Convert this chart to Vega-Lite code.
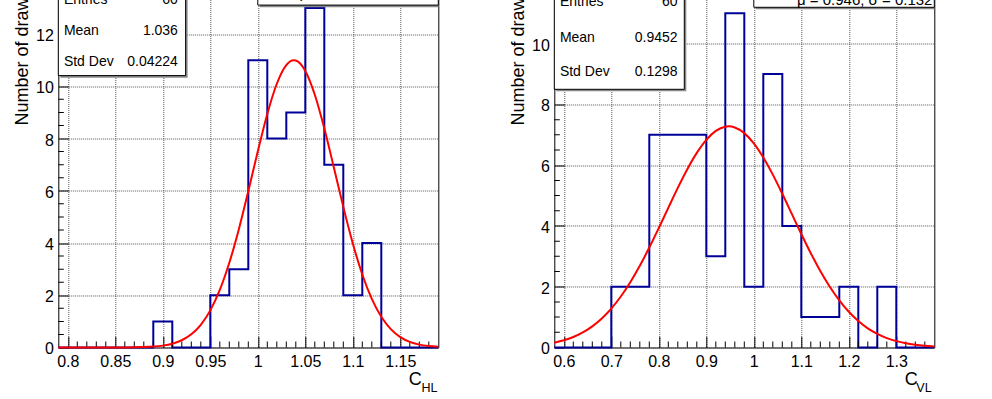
{
  "$schema": "https://vega.github.io/schema/vega-lite/v6.json",
  "background": "white",
  "padding": {"left": 12.3, "top": -15.5, "right": 0, "bottom": 0},
  "autosize": {"type": "pad"},
  "spacing": 116,
  "bounds": "flush",
  "config": {
    "font": "Liberation Sans",
    "view": {"stroke": "black", "strokeWidth": 1},
    "tick": {"opacity": 1},
    "axis": {
      "labelFont": "Liberation Sans", "labelFontSize": 16, "labelColor": "black",
      "titleFont": "Liberation Sans", "titleFontSize": 18, "titleFontWeight": "normal", "titleColor": "black",
      "domain": false, "ticks": true, "tickColor": "black", "tickWidth": 1,
      "grid": true, "gridColor": "#555555", "gridDash": [1, 1], "gridWidth": 1,
      "labelFlush": false, "labelOverlap": false
    }
  },
  "datasets": {
    "hl": [
      {"c": 0.79, "n": 0}, {"c": 0.81, "n": 0}, {"c": 0.83, "n": 0}, {"c": 0.85, "n": 0}, {"c": 0.87, "n": 0},
      {"c": 0.89, "n": 1}, {"c": 0.91, "n": 0}, {"c": 0.93, "n": 0}, {"c": 0.95, "n": 2}, {"c": 0.97, "n": 3},
      {"c": 0.99, "n": 11}, {"c": 1.01, "n": 8}, {"c": 1.03, "n": 9}, {"c": 1.05, "n": 13}, {"c": 1.07, "n": 7},
      {"c": 1.09, "n": 2}, {"c": 1.11, "n": 4}, {"c": 1.13, "n": 0}, {"c": 1.15, "n": 0}, {"c": 1.17, "n": 0},
      {"c": 1.19, "n": 0}
    ],
    "fl": [
      {"c": 0.79, "f": 0}, {"c": 0.8, "f": 0}, {"c": 0.81, "f": 0}, {"c": 0.82, "f": 0}, {"c": 0.83, "f": 0.0001},
      {"c": 0.84, "f": 0.0003}, {"c": 0.85, "f": 0.001}, {"c": 0.86, "f": 0.0025}, {"c": 0.87, "f": 0.0063}, {"c": 0.88, "f": 0.015},
      {"c": 0.89, "f": 0.034}, {"c": 0.9, "f": 0.072}, {"c": 0.91, "f": 0.145}, {"c": 0.92, "f": 0.278}, {"c": 0.93, "f": 0.504},
      {"c": 0.94, "f": 0.869}, {"c": 0.95, "f": 1.421}, {"c": 0.96, "f": 2.203}, {"c": 0.97, "f": 3.242}, {"c": 0.98, "f": 4.522},
      {"c": 0.99, "f": 5.984}, {"c": 1.0, "f": 7.511}, {"c": 1.01, "f": 8.942}, {"c": 1.02, "f": 10.098}, {"c": 1.03, "f": 10.815},
      {"c": 1.038, "f": 11.0}, {"c": 1.04, "f": 10.988}, {"c": 1.05, "f": 10.59}, {"c": 1.06, "f": 9.679}, {"c": 1.07, "f": 8.392},
      {"c": 1.08, "f": 6.902}, {"c": 1.09, "f": 5.384}, {"c": 1.1, "f": 3.984}, {"c": 1.11, "f": 2.796}, {"c": 1.12, "f": 1.861},
      {"c": 1.13, "f": 1.175}, {"c": 1.14, "f": 0.704}, {"c": 1.15, "f": 0.4}, {"c": 1.16, "f": 0.215}, {"c": 1.17, "f": 0.11},
      {"c": 1.18, "f": 0.053}, {"c": 1.19, "f": 0.025}
    ],
    "hr": [
      {"c": 0.58, "n": 0}, {"c": 0.62, "n": 0}, {"c": 0.66, "n": 0}, {"c": 0.7, "n": 2}, {"c": 0.74, "n": 2},
      {"c": 0.78, "n": 7}, {"c": 0.82, "n": 7}, {"c": 0.86, "n": 7}, {"c": 0.9, "n": 3}, {"c": 0.94, "n": 11},
      {"c": 0.98, "n": 2}, {"c": 1.02, "n": 9}, {"c": 1.06, "n": 4}, {"c": 1.1, "n": 1}, {"c": 1.14, "n": 1},
      {"c": 1.18, "n": 2}, {"c": 1.22, "n": 0}, {"c": 1.26, "n": 2}, {"c": 1.3, "n": 0}, {"c": 1.34, "n": 0},
      {"c": 1.38, "n": 0}
    ],
    "fr": [
      {"c": 0.58, "f": 0.157}, {"c": 0.6, "f": 0.236}, {"c": 0.62, "f": 0.347}, {"c": 0.64, "f": 0.497}, {"c": 0.66, "f": 0.697},
      {"c": 0.68, "f": 0.956}, {"c": 0.7, "f": 1.281}, {"c": 0.72, "f": 1.678}, {"c": 0.74, "f": 2.148}, {"c": 0.76, "f": 2.689},
      {"c": 0.78, "f": 3.29}, {"c": 0.8, "f": 3.934}, {"c": 0.82, "f": 4.599}, {"c": 0.84, "f": 5.254}, {"c": 0.86, "f": 5.868},
      {"c": 0.88, "f": 6.406}, {"c": 0.9, "f": 6.836}, {"c": 0.92, "f": 7.131}, {"c": 0.94, "f": 7.27}, {"c": 0.947, "f": 7.28},
      {"c": 0.96, "f": 7.245}, {"c": 0.98, "f": 7.058}, {"c": 1.0, "f": 6.72}, {"c": 1.02, "f": 6.255}, {"c": 1.04, "f": 5.691},
      {"c": 1.06, "f": 5.06}, {"c": 1.08, "f": 4.399}, {"c": 1.1, "f": 3.737}, {"c": 1.12, "f": 3.104}, {"c": 1.14, "f": 2.52},
      {"c": 1.16, "f": 2.0}, {"c": 1.18, "f": 1.551}, {"c": 1.2, "f": 1.176}, {"c": 1.22, "f": 0.872}, {"c": 1.24, "f": 0.631},
      {"c": 1.26, "f": 0.447}, {"c": 1.28, "f": 0.309}, {"c": 1.3, "f": 0.209}, {"c": 1.32, "f": 0.138}, {"c": 1.34, "f": 0.0895},
      {"c": 1.36, "f": 0.0565}, {"c": 1.38, "f": 0.035}
    ],
    "mxl": [
      {"v": 0.81}, {"v": 0.82}, {"v": 0.83}, {"v": 0.84}, {"v": 0.86}, {"v": 0.87}, {"v": 0.88}, {"v": 0.89},
      {"v": 0.91}, {"v": 0.92}, {"v": 0.93}, {"v": 0.94}, {"v": 0.96}, {"v": 0.97}, {"v": 0.98}, {"v": 0.99},
      {"v": 1.01}, {"v": 1.02}, {"v": 1.03}, {"v": 1.04}, {"v": 1.06}, {"v": 1.07}, {"v": 1.08}, {"v": 1.09},
      {"v": 1.11}, {"v": 1.12}, {"v": 1.13}, {"v": 1.14}, {"v": 1.16}, {"v": 1.17}, {"v": 1.18}
    ],
    "myl": [
      {"v": 0.5}, {"v": 1}, {"v": 1.5}, {"v": 2.5}, {"v": 3}, {"v": 3.5}, {"v": 4.5}, {"v": 5}, {"v": 5.5},
      {"v": 6.5}, {"v": 7}, {"v": 7.5}, {"v": 8.5}, {"v": 9}, {"v": 9.5}, {"v": 10.5}, {"v": 11}, {"v": 11.5},
      {"v": 12.5}, {"v": 13}, {"v": 13.5}
    ],
    "mxr": [
      {"v": 0.62}, {"v": 0.64}, {"v": 0.66}, {"v": 0.68}, {"v": 0.72}, {"v": 0.74}, {"v": 0.76}, {"v": 0.78},
      {"v": 0.82}, {"v": 0.84}, {"v": 0.86}, {"v": 0.88}, {"v": 0.92}, {"v": 0.94}, {"v": 0.96}, {"v": 0.98},
      {"v": 1.02}, {"v": 1.04}, {"v": 1.06}, {"v": 1.08}, {"v": 1.12}, {"v": 1.14}, {"v": 1.16}, {"v": 1.18},
      {"v": 1.22}, {"v": 1.24}, {"v": 1.26}, {"v": 1.28}, {"v": 1.32}, {"v": 1.34}, {"v": 1.36}
    ],
    "myr": [
      {"v": 0.5}, {"v": 1}, {"v": 1.5}, {"v": 2.5}, {"v": 3}, {"v": 3.5}, {"v": 4.5}, {"v": 5}, {"v": 5.5},
      {"v": 6.5}, {"v": 7}, {"v": 7.5}, {"v": 8.5}, {"v": 9}, {"v": 9.5}, {"v": 10.5}, {"v": 11}, {"v": 11.5}
    ]
  },
  "hconcat": [
    {
      "width": 380,
      "height": 356,
      "layer": [
        {
          "data": {"name": "hl"},
          "mark": {"type": "line", "interpolate": "step-after", "color": "#000099", "strokeWidth": 2},
          "encoding": {
            "x": {
              "field": "c", "type": "quantitative",
              "scale": {"domain": [0.79, 1.19], "nice": false, "zero": false},
              "axis": {
                "title": "C",
                "values": [0.8, 0.85, 0.9, 0.95, 1, 1.05, 1.1, 1.15],
                "labelExpr": "format(datum.value,'.2~f')",
                "tickSize": -11,
                "labelPadding": 17,
                "labelOverlap": false,
                "titleX": 363, "titleY": 37.5, "titleAlign": "right", "titleBaseline": "alphabetic", "titleAngle": 0
              }
            },
            "y": {
              "field": "n", "type": "quantitative",
              "scale": {"domain": [0, 13.63], "nice": false, "zero": true},
              "axis": {
                "title": "Number of draws",
                "values": [0, 2, 4, 6, 8, 10, 12],
                "labelExpr": "format(datum.value,'d')",
                "tickSize": -10,
                "labelPadding": 15,
                "labelOffset": 1.5,
                "labelOverlap": false,
                "titleX": -31, "titleY": -3.5, "titleAlign": "right", "titleAngle": -90, "titleBaseline": "alphabetic"
              }
            }
          }
        },
        {
          "data": {"name": "mxl"},
          "mark": {"type": "tick", "orient": "vertical", "size": 12, "thickness": 1, "color": "black", "opacity": 1, "clip": true},
          "encoding": {
            "x": {"field": "v", "type": "quantitative"},
            "y": {"datum": 0, "type": "quantitative"}
          }
        },
        {
          "data": {"name": "myl"},
          "mark": {"type": "tick", "orient": "horizontal", "size": 11, "thickness": 1, "color": "black", "opacity": 1, "clip": true},
          "encoding": {
            "x": {"datum": 0.79, "type": "quantitative"},
            "y": {"field": "v", "type": "quantitative"}
          }
        },
        {
          "data": {"name": "fl"},
          "mark": {"type": "line", "interpolate": "monotone", "color": "#ff0000", "strokeWidth": 2},
          "encoding": {
            "x": {"field": "c", "type": "quantitative"},
            "y": {"field": "f", "type": "quantitative"}
          }
        },
        {
          "data": {"values": [{}]},
          "mark": {"type": "rect", "fill": "#888888"},
          "encoding": {
            "x": {"datum": 0.7921, "type": "quantitative"}, "x2": {"datum": 0.9261},
            "y": {"datum": 10.33, "type": "quantitative"}, "y2": {"datum": 13.63}
          }
        },
        {
          "data": {"values": [{}]},
          "mark": {"type": "rect", "fill": "white", "stroke": "black", "strokeWidth": 1},
          "encoding": {
            "x": {"datum": 0.79, "type": "quantitative"}, "x2": {"datum": 0.924},
            "y": {"datum": 10.41, "type": "quantitative"}, "y2": {"datum": 13.63}
          }
        },
        {
          "data": {"values": [{}]},
          "mark": {"type": "rect", "fill": "#888888"},
          "encoding": {
            "x": {"datum": 1.0021, "type": "quantitative"}, "x2": {"datum": 1.19},
            "y": {"datum": 13.03, "type": "quantitative"}, "y2": {"datum": 13.63}
          }
        },
        {
          "data": {"values": [{}]},
          "mark": {"type": "rect", "fill": "white", "stroke": "black", "strokeWidth": 1},
          "encoding": {
            "x": {"datum": 1.0, "type": "quantitative"}, "x2": {"datum": 1.19},
            "y": {"datum": 13.11, "type": "quantitative"}, "y2": {"datum": 13.63}
          }
        },
        {
          "data": {"values": [{}]},
          "mark": {"type": "text", "align": "left", "baseline": "alphabetic", "fontSize": 15, "font": "Liberation Sans", "color": "black"},
          "encoding": {
            "x": {"datum": 1.044, "type": "quantitative"},
            "y": {"datum": 13.4, "type": "quantitative"},
            "text": {"value": "μ = 1.038, σ = 0.044"}
          }
        },
        {
          "data": {"values": [{}]},
          "mark": {"type": "text", "align": "left", "baseline": "middle", "fontSize": 14, "font": "Liberation Sans", "color": "black"},
          "encoding": {
            "x": {"datum": 0.7959, "type": "quantitative"},
            "y": {"datum": 13.29, "type": "quantitative"},
            "text": {"value": "Entries"}
          }
        },
        {
          "data": {"values": [{}]},
          "mark": {"type": "text", "align": "right", "baseline": "middle", "fontSize": 14, "font": "Liberation Sans", "color": "black"},
          "encoding": {
            "x": {"datum": 0.9159, "type": "quantitative"},
            "y": {"datum": 13.29, "type": "quantitative"},
            "text": {"value": "60"}
          }
        },
        {
          "data": {"values": [{}]},
          "mark": {"type": "text", "align": "left", "baseline": "middle", "fontSize": 14, "font": "Liberation Sans", "color": "black"},
          "encoding": {
            "x": {"datum": 0.7959, "type": "quantitative"},
            "y": {"datum": 12.12, "type": "quantitative"},
            "text": {"value": "Mean"}
          }
        },
        {
          "data": {"values": [{}]},
          "mark": {"type": "text", "align": "right", "baseline": "middle", "fontSize": 14, "font": "Liberation Sans", "color": "black"},
          "encoding": {
            "x": {"datum": 0.9159, "type": "quantitative"},
            "y": {"datum": 12.12, "type": "quantitative"},
            "text": {"value": "1.036"}
          }
        },
        {
          "data": {"values": [{}]},
          "mark": {"type": "text", "align": "left", "baseline": "middle", "fontSize": 14, "font": "Liberation Sans", "color": "black"},
          "encoding": {
            "x": {"datum": 0.7959, "type": "quantitative"},
            "y": {"datum": 10.94, "type": "quantitative"},
            "text": {"value": "Std Dev"}
          }
        },
        {
          "data": {"values": [{}]},
          "mark": {"type": "text", "align": "right", "baseline": "middle", "fontSize": 14, "font": "Liberation Sans", "color": "black"},
          "encoding": {
            "x": {"datum": 0.9159, "type": "quantitative"},
            "y": {"datum": 10.94, "type": "quantitative"},
            "text": {"value": "0.04224"}
          }
        },
        {
          "data": {"values": [{}]},
          "mark": {"type": "text", "align": "right", "baseline": "alphabetic", "fontSize": 12.5, "font": "Liberation Sans", "color": "black"},
          "encoding": {
            "x": {"datum": 1.189, "type": "quantitative"},
            "y": {"datum": -1.692, "type": "quantitative"},
            "text": {"value": "HL"}
          }
        }
      ]
    },
    {
      "width": 380,
      "height": 356,
      "layer": [
        {
          "data": {"name": "hr"},
          "mark": {"type": "line", "interpolate": "step-after", "color": "#000099", "strokeWidth": 2},
          "encoding": {
            "x": {
              "field": "c", "type": "quantitative",
              "scale": {"domain": [0.58, 1.38], "nice": false, "zero": false},
              "axis": {
                "title": "C",
                "values": [0.6, 0.7, 0.8, 0.9, 1, 1.1, 1.2, 1.3],
                "labelExpr": "format(datum.value,'.1~f')",
                "tickSize": -11,
                "labelPadding": 17,
                "labelOverlap": false,
                "titleX": 363, "titleY": 37.5, "titleAlign": "right", "titleBaseline": "alphabetic", "titleAngle": 0
              }
            },
            "y": {
              "field": "n", "type": "quantitative",
              "scale": {"domain": [0, 11.72], "nice": false, "zero": true},
              "axis": {
                "title": "Number of draws",
                "values": [0, 2, 4, 6, 8, 10],
                "labelExpr": "format(datum.value,'d')",
                "tickSize": -10,
                "labelPadding": 15,
                "labelOffset": 1.5,
                "labelOverlap": false,
                "titleX": -31, "titleY": -3.5, "titleAlign": "right", "titleAngle": -90, "titleBaseline": "alphabetic"
              }
            }
          }
        },
        {
          "data": {"name": "mxr"},
          "mark": {"type": "tick", "orient": "vertical", "size": 12, "thickness": 1, "color": "black", "opacity": 1, "clip": true},
          "encoding": {
            "x": {"field": "v", "type": "quantitative"},
            "y": {"datum": 0, "type": "quantitative"}
          }
        },
        {
          "data": {"name": "myr"},
          "mark": {"type": "tick", "orient": "horizontal", "size": 11, "thickness": 1, "color": "black", "opacity": 1, "clip": true},
          "encoding": {
            "x": {"datum": 0.58, "type": "quantitative"},
            "y": {"field": "v", "type": "quantitative"}
          }
        },
        {
          "data": {"name": "fr"},
          "mark": {"type": "line", "interpolate": "monotone", "color": "#ff0000", "strokeWidth": 2},
          "encoding": {
            "x": {"field": "c", "type": "quantitative"},
            "y": {"field": "f", "type": "quantitative"}
          }
        },
        {
          "data": {"values": [{}]},
          "mark": {"type": "rect", "fill": "#888888"},
          "encoding": {
            "x": {"datum": 0.5842, "type": "quantitative"}, "x2": {"datum": 0.8579},
            "y": {"datum": 8.434, "type": "quantitative"}, "y2": {"datum": 11.72}
          }
        },
        {
          "data": {"values": [{}]},
          "mark": {"type": "rect", "fill": "white", "stroke": "black", "strokeWidth": 1},
          "encoding": {
            "x": {"datum": 0.58, "type": "quantitative"}, "x2": {"datum": 0.8537},
            "y": {"datum": 8.5, "type": "quantitative"}, "y2": {"datum": 11.72}
          }
        },
        {
          "data": {"values": [{}]},
          "mark": {"type": "rect", "fill": "#888888"},
          "encoding": {
            "x": {"datum": 1.0042, "type": "quantitative"}, "x2": {"datum": 1.38},
            "y": {"datum": 11.134, "type": "quantitative"}, "y2": {"datum": 11.72}
          }
        },
        {
          "data": {"values": [{}]},
          "mark": {"type": "rect", "fill": "white", "stroke": "black", "strokeWidth": 1},
          "encoding": {
            "x": {"datum": 1.0, "type": "quantitative"}, "x2": {"datum": 1.38},
            "y": {"datum": 11.2, "type": "quantitative"}, "y2": {"datum": 11.72}
          }
        },
        {
          "data": {"values": [{}]},
          "mark": {"type": "text", "align": "left", "baseline": "alphabetic", "fontSize": 15, "font": "Liberation Sans", "color": "black"},
          "encoding": {
            "x": {"datum": 1.091, "type": "quantitative"},
            "y": {"datum": 11.276, "type": "quantitative"},
            "text": {"value": "μ = 0.946, σ = 0.132"}
          }
        },
        {
          "data": {"values": [{}]},
          "mark": {"type": "text", "align": "left", "baseline": "middle", "fontSize": 14, "font": "Liberation Sans", "color": "black"},
          "encoding": {
            "x": {"datum": 0.5918, "type": "quantitative"},
            "y": {"datum": 11.38, "type": "quantitative"},
            "text": {"value": "Entries"}
          }
        },
        {
          "data": {"values": [{}]},
          "mark": {"type": "text", "align": "right", "baseline": "middle", "fontSize": 14, "font": "Liberation Sans", "color": "black"},
          "encoding": {
            "x": {"datum": 0.8396, "type": "quantitative"},
            "y": {"datum": 11.38, "type": "quantitative"},
            "text": {"value": "60"}
          }
        },
        {
          "data": {"values": [{}]},
          "mark": {"type": "text", "align": "left", "baseline": "middle", "fontSize": 14, "font": "Liberation Sans", "color": "black"},
          "encoding": {
            "x": {"datum": 0.5918, "type": "quantitative"},
            "y": {"datum": 10.2, "type": "quantitative"},
            "text": {"value": "Mean"}
          }
        },
        {
          "data": {"values": [{}]},
          "mark": {"type": "text", "align": "right", "baseline": "middle", "fontSize": 14, "font": "Liberation Sans", "color": "black"},
          "encoding": {
            "x": {"datum": 0.8396, "type": "quantitative"},
            "y": {"datum": 10.2, "type": "quantitative"},
            "text": {"value": "0.9452"}
          }
        },
        {
          "data": {"values": [{}]},
          "mark": {"type": "text", "align": "left", "baseline": "middle", "fontSize": 14, "font": "Liberation Sans", "color": "black"},
          "encoding": {
            "x": {"datum": 0.5918, "type": "quantitative"},
            "y": {"datum": 9.06, "type": "quantitative"},
            "text": {"value": "Std Dev"}
          }
        },
        {
          "data": {"values": [{}]},
          "mark": {"type": "text", "align": "right", "baseline": "middle", "fontSize": 14, "font": "Liberation Sans", "color": "black"},
          "encoding": {
            "x": {"datum": 0.8396, "type": "quantitative"},
            "y": {"datum": 9.06, "type": "quantitative"},
            "text": {"value": "0.1298"}
          }
        },
        {
          "data": {"values": [{}]},
          "mark": {"type": "text", "align": "right", "baseline": "alphabetic", "fontSize": 12.5, "font": "Liberation Sans", "color": "black"},
          "encoding": {
            "x": {"datum": 1.3743, "type": "quantitative"},
            "y": {"datum": -1.455, "type": "quantitative"},
            "text": {"value": "VL"}
          }
        }
      ]
    }
  ]
}
